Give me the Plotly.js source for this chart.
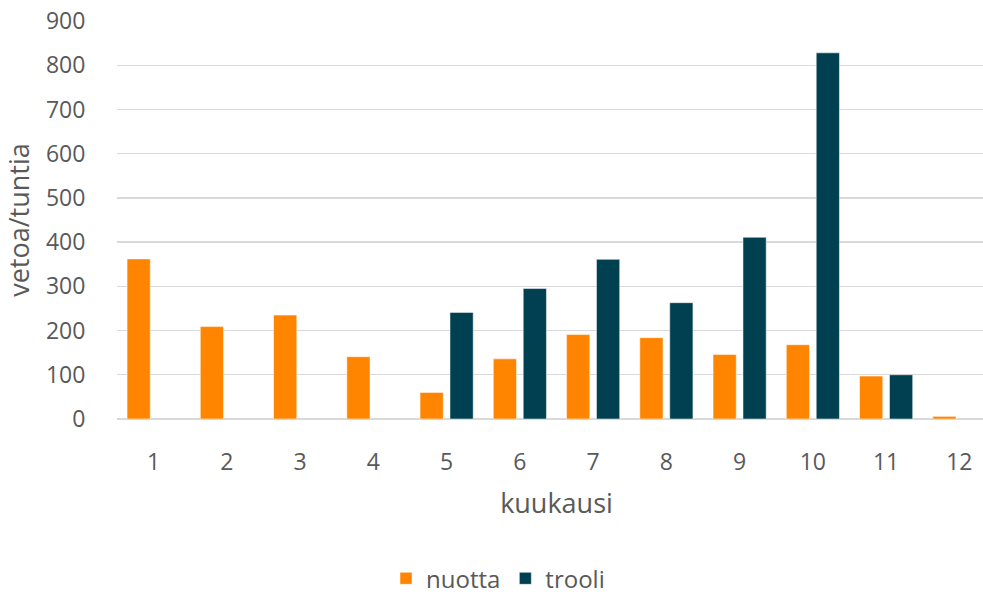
<!DOCTYPE html>
<html>
<head>
<meta charset="utf-8">
<script src="https://cdn.plot.ly/plotly-3.0.1.min.js"></script>
<style>
html, body { margin: 0; padding: 0; overflow: hidden; background: #fff; width: 983px; height: 596px; }
#chart { width: 996px; height: 596px; }
</style>
</head>
<body>
<div id="chart"></div>
<script>
const months = [1, 2, 3, 4, 5, 6, 7, 8, 9, 10, 11, 12];
const nuotta = [362, 209, 235, 141, 60, 136, 191, 184, 146, 168, 97, 6];
const trooli = [null, null, null, null, 241, 295, 361, 263, 411, 828, 100, null];
const seriesNames = ['nuotta', 'trooli'];
const yTitle = 'vetoa/tuntia';
const xTitle = 'kuukausi';

const fontFamily = '"Open Sans", "Noto Sans", sans-serif';
const textColor = '#595959';

const traces = [
  {
    type: 'bar', name: seriesNames[0], x: months, y: nuotta,
    marker: { color: '#FF8500', line: { color: 'rgba(255,255,255,0.5)', width: 1 } },
    hoverinfo: 'x+y+name'
  },
  {
    type: 'bar', name: seriesNames[1], x: months, y: trooli,
    marker: { color: '#004050', line: { color: 'rgba(255,255,255,0.5)', width: 1 } },
    hoverinfo: 'x+y+name'
  }
];

const layout = {
  width: 996, height: 596,
  margin: { l: 117.4, r: 0, t: 20.7, b: 177.3 },
  paper_bgcolor: '#fff', plot_bgcolor: '#fff',
  font: { family: fontFamily, color: textColor, size: 23 },
  barmode: 'group',
  bargap: 0.183,
  bargroupgap: 0.224,
  showlegend: true,
  legend: {
    orientation: 'h', xref: 'container', x: 0.5, xanchor: 'center',
    yref: 'container', y: 0.029, yanchor: 'middle',
    font: { size: 24, color: textColor, family: fontFamily },
    itemclick: false
  },
  xaxis: {
    range: [0.5, 12.5], tickmode: 'array', tickvals: months, ticktext: months.map(String),
    showgrid: false, zeroline: false, showline: false,
    ticks: 'outside', ticklen: 22, tickcolor: 'rgba(0,0,0,0)',
    tickfont: { size: 23, color: textColor, family: fontFamily },
    title: { text: xTitle, font: { size: 27, color: textColor, family: fontFamily }, standoff: 18 },
    automargin: false, fixedrange: true
  },
  yaxis: {
    range: [0, 900], dtick: 100, tick0: 0,
    showgrid: true, gridcolor: '#d9d9d9', gridwidth: 1.3,
    zeroline: true, zerolinecolor: '#d9d9d9', zerolinewidth: 1.3,
    showline: false,
    ticks: 'outside', ticklen: 26, tickcolor: 'rgba(0,0,0,0)',
    tickfont: { size: 23, color: textColor, family: fontFamily },
    title: { text: yTitle, font: { size: 27, color: textColor, family: fontFamily }, standoff: 8 },
    automargin: false, fixedrange: true
  }
};

Plotly.newPlot('chart', traces, layout, { displayModeBar: false, staticPlot: true });
</script>
</body>
</html>
